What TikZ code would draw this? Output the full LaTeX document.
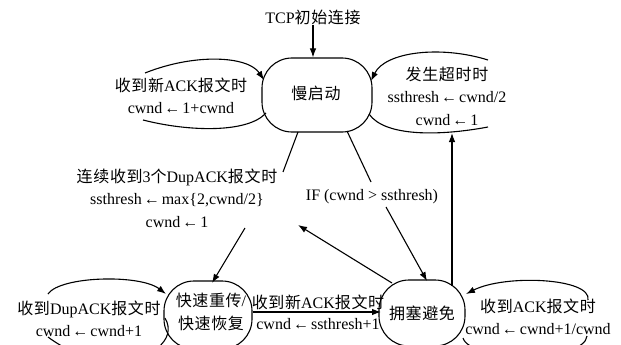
\documentclass[tikz,border=0pt]{standalone}
\usepackage{fontspec}
\setmainfont{Liberation Serif}
\newfontfamily\cjk[LetterSpace=4]{Noto Sans CJK SC}
\usetikzlibrary{arrows.meta}
\newcommand\zh[1]{{\cjk #1}}
\newcommand\la{\kern2pt←\kern2pt}
\begin{document}
\begin{tikzpicture}[x=1pt,y=-1pt, line width=1.1pt,
  arr/.style={-{Latex[length=9pt,width=6.5pt]}},
  state/.style={draw, line width=1.1pt, inner sep=0pt},
  lbl/.style={font=\fontsize{16}{22.5}\selectfont, inner sep=0pt, align=center}]
\useasboundingbox (0,0) rectangle (621,345);
\clip (0,0) rectangle (621,345);
% states
\node[state, rounded corners=30pt, minimum width=110pt, minimum height=74pt] (ss) at (317,95) {};
\node[lbl] (sstxt) at (316,93) {\zh{慢启动}};
\node[state, rounded corners=30pt, minimum width=88pt, minimum height=68pt] (fast) at (208,315) {};
\node[lbl] (fasttxt) at (211,312) {\zh{快速重传}/\\\zh{快速恢复}};
\node[state, rounded corners=30pt, minimum width=86pt, minimum height=66pt] (cong) at (422,313) {};
\node[lbl] (congtxt) at (422,313) {\zh{拥塞避免}};
% start
\node[lbl] (start) at (313,17) {TCP\zh{初始连接}};
\draw[arr] (start.south) -- (ss.north -| start.south);
% left loop of slow start
\coordinate (l1a) at (145,73);
\coordinate (l1b) at (264,80);
\coordinate (l1c) at (266,113);
\coordinate (l1d) at (143,120);
\draw[arr] (l1a) .. controls (195,53) and (248,56) .. (l1b);
\draw (l1c) .. controls (248,133) and (190,132) .. (l1d);
\node[lbl] (l1txt) at (181,96) {\zh{收到新}ACK\zh{报文时}\\cwnd\la 1+cwnd};
% right loop of slow start
\coordinate (r1a) at (488,60);
\coordinate (r1b) at (371,81);
\coordinate (r1c) at (369,114);
\coordinate (r1d) at (488,127);
\draw[arr] (r1a) .. controls (440,45) and (385,52) .. (r1b);
\draw (r1c) .. controls (385,137) and (440,136) .. (r1d);
\node[lbl] (r1txt) at (447,96) {\zh{发生超时时}\\ssthresh\la cwnd/2\\cwnd\la 1};
% cong -> timeout loop
\coordinate (vb) at (452,286);
\coordinate (vt) at (452,133);
\draw[arr] (vb) -- (vt);
% slow start -> fast recovery
\node[lbl] (dup) at (177,198) {\zh{连续收到}3\zh{个}DupACK\zh{报文时}\\ssthresh\la max\{2,cwnd/2\}\\cwnd\la 1};
\coordinate (d1) at (298,132);
\coordinate (d2) at (283,172);
\coordinate (d3) at (245,228);
\coordinate (d4) at (212,283);
\draw (d1) -- (d2);
\draw[arr] (d3) -- (d4);
% slow start -> congestion avoidance
\node[lbl] (iflbl) at (372,197) {IF (cwnd > ssthresh)};
\coordinate (i1) at (347,131);
\coordinate (i2) at (371,182);
\coordinate (i3) at (386,207);
\coordinate (i4) at (427,281);
\draw (i1) -- (i2);
\draw[arr] (i3) -- (i4);
% congestion avoidance -> free end
\coordinate (c1) at (392,283);
\coordinate (c2) at (298,225);
\draw[arr] (c1) -- (c2);
% fast -> cong
\coordinate (f1) at (253,312);
\coordinate (f2) at (381,312);
\draw[arr] (f1) -- (f2);
\node[lbl] (fl1) at (318,302) {\zh{收到新}ACK\zh{报文时}};
\node[lbl] (fl2) at (318,324) {cwnd\la ssthresh+1};
% left loop of fast
\coordinate (l2a) at (48,294);
\coordinate (l2b) at (166,294);
\coordinate (l2c) at (165,318);
\coordinate (l2d) at (48,337);
\draw[arr] (l2a) .. controls (60,276) and (140,274) .. (l2b);
\draw (l2c) .. controls (178,340) and (150,362) .. (110,360) .. controls (80,358) and (60,346) .. (l2d);
\node[lbl] (l2txt) at (89,319) {\zh{收到}DupACK\zh{报文时}\\cwnd\la cwnd+1};
% right loop of cong
\coordinate (r2a) at (588,300);
\coordinate (r2b) at (466,294);
\coordinate (r2c) at (587,336);
\coordinate (r2d) at (463,338);
\draw[arr] (r2a) .. controls (592,278) and (505,274) .. (r2b);
\draw (r2c) .. controls (585,362) and (470,362) .. (r2d);
\node[lbl] (r2txt) at (538,317) {\zh{收到}ACK\zh{报文时}\\cwnd\la cwnd+1/cwnd};
\end{tikzpicture}
\end{document}
